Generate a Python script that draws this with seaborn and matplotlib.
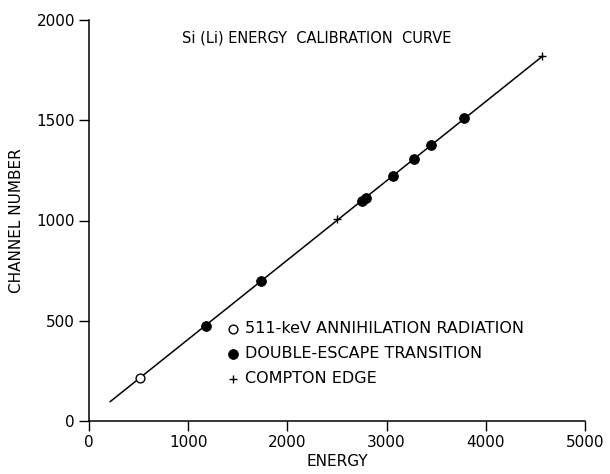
import matplotlib
matplotlib.use("Agg")
import matplotlib.pyplot as plt
import seaborn as sns
import pandas as pd

# data
annih_energy = [511]
annih_channel = [215]
de_energy = [1176, 1735, 2749, 2792, 3068, 3280, 3444, 3783]
de_channel = [475, 697, 1099, 1111, 1222, 1307, 1377, 1510]
compton_energy = [2497, 4566]
compton_channel = [1006, 1820]
fit_energy = [212, 4573]
fit_channel = [96, 1820]

x_ticks = [0, 1000, 2000, 3000, 4000, 5000]
y_ticks = [0, 500, 1000, 1500, 2000]

sns.set_theme(style="ticks")
plt.rcParams['font.family'] = ['DejaVu Sans']
plt.rcParams['text.color'] = 'black'
plt.rcParams['axes.labelcolor'] = 'black'

fig = plt.figure(figsize=(6.10, 4.74), dpi=100)
ax = fig.add_axes([89/610, 53/474, (585-89)/610, (421-20)/474])

fit = pd.DataFrame({"E": fit_energy, "C": fit_channel})
sns.lineplot(data=fit, x="E", y="C", ax=ax, color="black", lw=1.1)

an = pd.DataFrame({"E": annih_energy, "C": annih_channel})
de = pd.DataFrame({"E": de_energy, "C": de_channel})
ce = pd.DataFrame({"E": compton_energy, "C": compton_channel})
sns.scatterplot(data=an, x="E", y="C", ax=ax, marker="o", s=40,
                facecolor="white", edgecolor="black", linewidth=1.0,
                label="511-keV ANNIHILATION RADIATION", zorder=3)
sns.scatterplot(data=de, x="E", y="C", ax=ax, marker="o", s=50,
                color="black", edgecolor="black",
                label="DOUBLE-ESCAPE TRANSITION", zorder=3)
sns.scatterplot(data=ce, x="E", y="C", ax=ax, marker="+", s=35,
                color="black", linewidth=1.0,
                label="COMPTON EDGE", zorder=3)

ax.set_xlim(0, 5000)
ax.set_ylim(0, 2000)
ax.set_xticks(x_ticks)
ax.set_yticks(y_ticks)
ax.set_xticklabels([str(t) for t in x_ticks], fontsize=11)
ax.set_yticklabels([str(t) for t in y_ticks], fontsize=11)
ax.tick_params(direction="out", length=7, width=1, colors="black", pad=3)
for s in ["top", "right"]:
    ax.spines[s].set_visible(False)
for s in ["left", "bottom"]:
    ax.spines[s].set_linewidth(1.1)
    ax.spines[s].set_color("black")
ax.margins(0)

ax.set_xlabel("ENERGY", fontsize=11, labelpad=3)
ax.set_ylabel("CHANNEL NUMBER", fontsize=11, labelpad=9)

ax.text(0.46, 0.955, "Si (Li) ENERGY  CALIBRATION  CURVE", transform=ax.transAxes,
        ha="center", va="center", fontsize=10.5, color="black")

leg = ax.legend(loc="upper left", bbox_to_anchor=(227/610, 1 - 321/474),
                bbox_transform=fig.transFigure, frameon=False, fontsize=11.5,
                handlelength=0.7, handletextpad=0.4, labelspacing=0.62,
                borderpad=0, borderaxespad=0)
for t in leg.get_texts():
    t.set_color("black")

fig.savefig("out.png", dpi=100)
